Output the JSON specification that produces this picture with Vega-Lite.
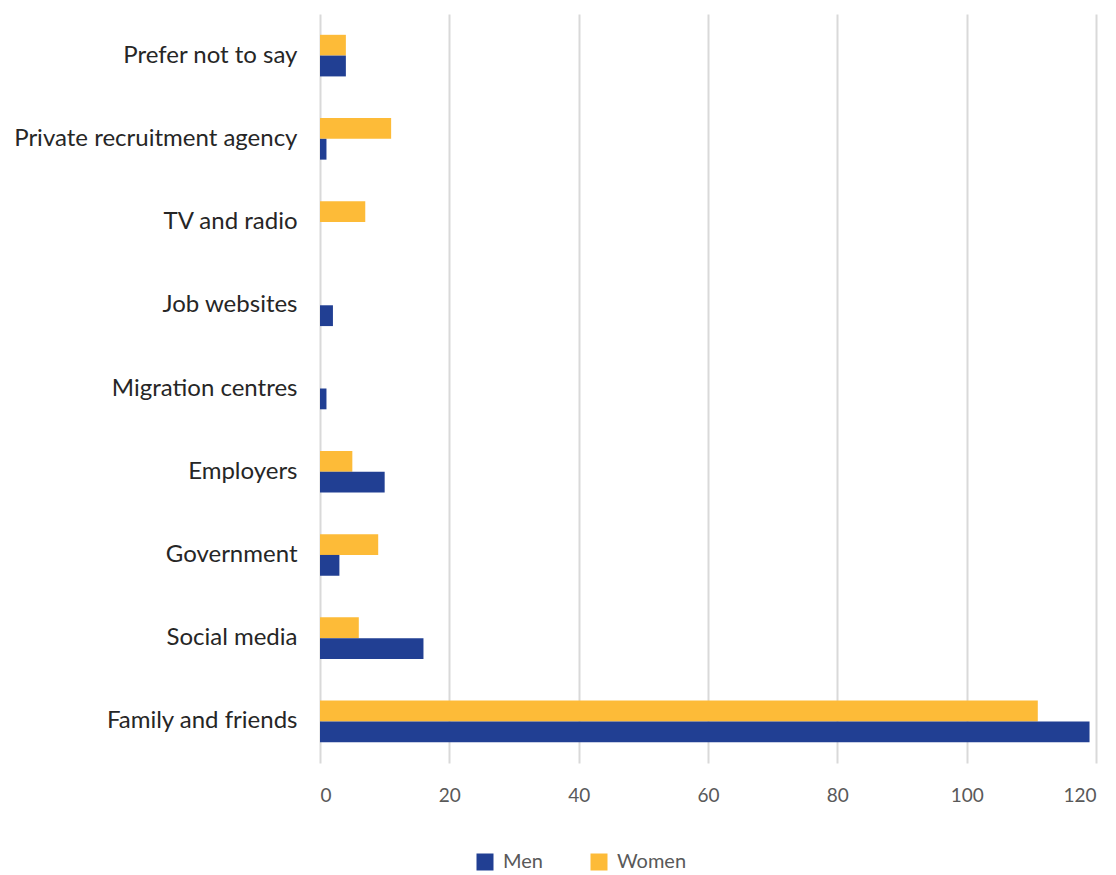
{
  "$schema": "https://vega.github.io/schema/vega-lite/v6.json",
  "width": 776,
  "height": 749,
  "autosize": {"type": "none"},
  "padding": {"left": 320, "top": 14, "right": 20, "bottom": 112},
  "background": "white",
  "config": {
    "view": {"stroke": null},
    "font": "Lato"
  },
  "data": {
    "values": [
      {"source": "Prefer not to say", "gender": "Women", "count": 4},
      {"source": "Prefer not to say", "gender": "Men", "count": 4},
      {"source": "Private recruitment agency", "gender": "Women", "count": 11},
      {"source": "Private recruitment agency", "gender": "Men", "count": 1},
      {"source": "TV and radio", "gender": "Women", "count": 7},
      {"source": "TV and radio", "gender": "Men", "count": 0},
      {"source": "Job websites", "gender": "Women", "count": 0},
      {"source": "Job websites", "gender": "Men", "count": 2},
      {"source": "Migration centres", "gender": "Women", "count": 0},
      {"source": "Migration centres", "gender": "Men", "count": 1},
      {"source": "Employers", "gender": "Women", "count": 5},
      {"source": "Employers", "gender": "Men", "count": 10},
      {"source": "Government", "gender": "Women", "count": 9},
      {"source": "Government", "gender": "Men", "count": 3},
      {"source": "Social media", "gender": "Women", "count": 6},
      {"source": "Social media", "gender": "Men", "count": 16},
      {"source": "Family and friends", "gender": "Women", "count": 111},
      {"source": "Family and friends", "gender": "Men", "count": 119}
    ]
  },
  "mark": {"type": "bar"},
  "encoding": {
    "y": {
      "field": "source",
      "type": "nominal",
      "sort": ["Prefer not to say", "Private recruitment agency", "TV and radio", "Job websites", "Migration centres", "Employers", "Government", "Social media", "Family and friends"],
      "scale": {"paddingInner": 0.5, "paddingOuter": 0.25},
      "axis": {
        "title": null,
        "ticks": false,
        "domain": false,
        "labelFontSize": 24,
        "labelColor": "#262626",
        "labelPadding": 23,
        "labelLimit": 400
      }
    },
    "yOffset": {
      "field": "gender",
      "type": "nominal",
      "sort": ["Women", "Men"]
    },
    "x": {
      "field": "count",
      "type": "quantitative",
      "scale": {"domain": [0, 120]},
      "axis": {
        "title": null,
        "values": [0, 20, 40, 60, 80, 100, 120],
        "ticks": false,
        "domain": false,
        "grid": true,
        "gridColor": "#d9d9d9",
        "gridWidth": 2,
        "labelFontSize": 19,
        "labelColor": "#595959",
        "labelPadding": 23
      }
    },
    "color": {
      "field": "gender",
      "type": "nominal",
      "scale": {"domain": ["Men", "Women"], "range": ["#213F93", "#FDBB38"]},
      "legend": {
        "title": null,
        "orient": "none",
        "direction": "horizontal",
        "legendX": 155,
        "legendY": 838,
        "symbolType": "square",
        "symbolSize": 289,
        "symbolStrokeWidth": 0,
        "labelFontSize": 20,
        "labelColor": "#595959",
        "labelOffset": 8,
        "columnPadding": 46
      }
    }
  }
}
